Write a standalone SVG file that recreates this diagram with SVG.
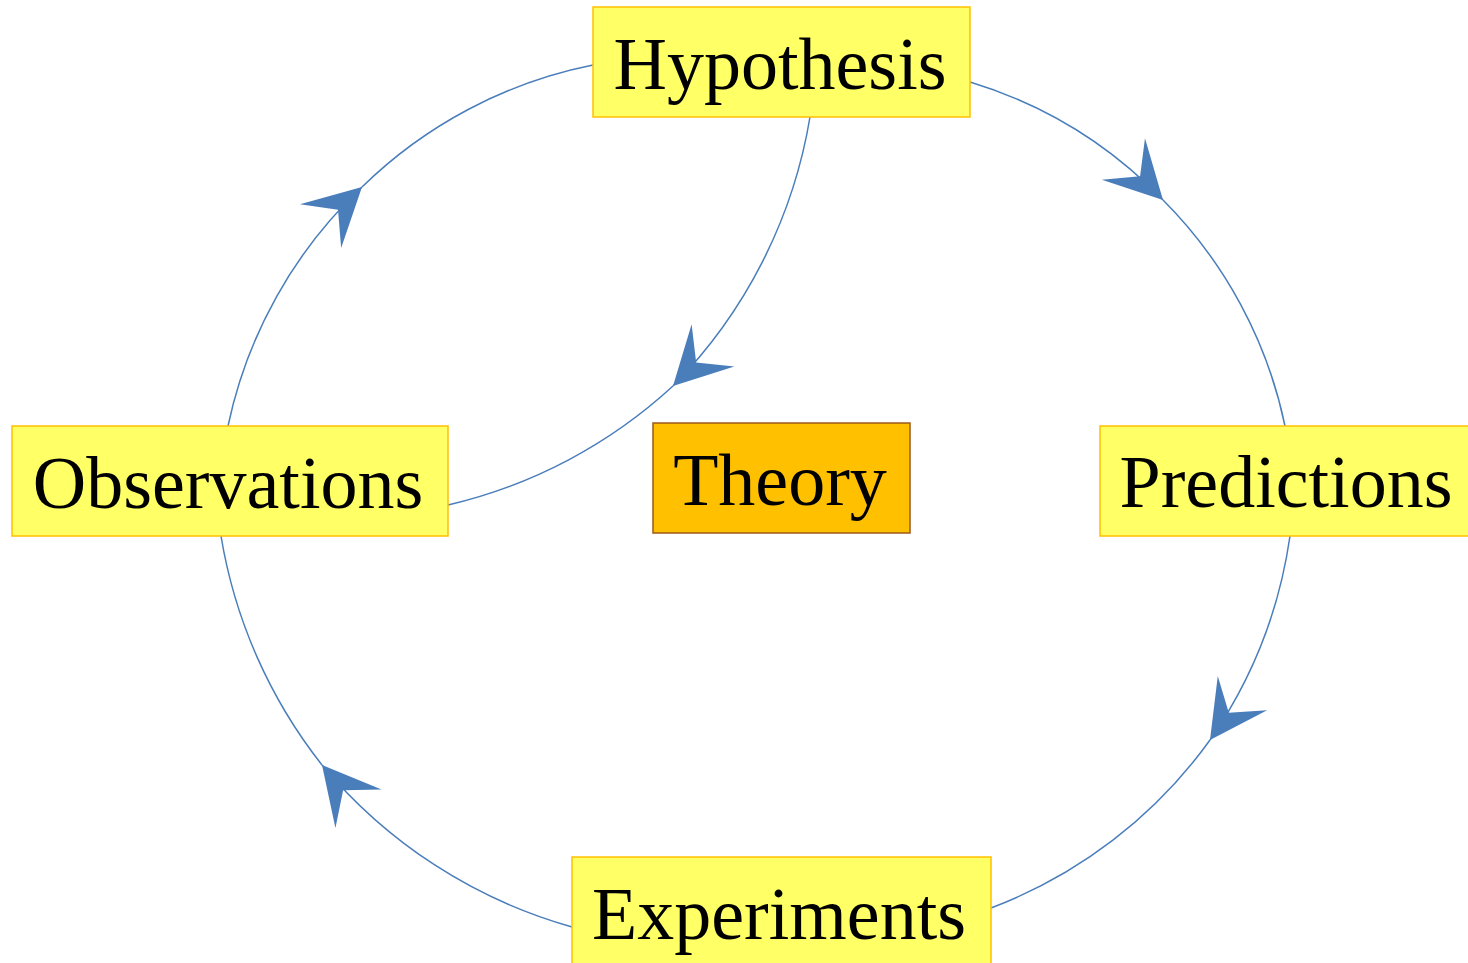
<svg xmlns="http://www.w3.org/2000/svg" width="1468" height="963" viewBox="0 0 1468 963">
<style>
.box{fill:#ffff66;stroke:#ffc000;stroke-width:1.5}
.theory{fill:#ffc000;stroke:#9c5a1a;stroke-width:1.5}
.lbl{font-family:"Liberation Serif","Times New Roman",serif;font-size:74px;fill:#000;text-anchor:middle}
.edge{fill:none;stroke:#4a7ebb;stroke-width:1.5}
</style>
<defs>
<marker id="stealth" markerUnits="userSpaceOnUse" viewBox="-60 -32 62 64" refX="0" refY="0" markerWidth="62" markerHeight="64" orient="auto" overflow="visible">
<path d="M0,0 L-57,-30 L-33,0 L-57,30 Z" fill="#4a7ebb"/>
</marker>
</defs>
<g id="connectors">
<path class="edge" d="M970,82 A450,450 0 0 1 1163,200" marker-end="url(#stealth)"/>
<path class="edge" d="M1163,200 A450,450 0 0 1 1285,426"/>
<path class="edge" d="M1290,536 A477,477 0 0 1 1210,740" marker-end="url(#stealth)"/>
<path class="edge" d="M1210,740 A477,477 0 0 1 991,908"/>
<path class="edge" d="M572,927 A502,502 0 0 1 322,765" marker-end="url(#stealth)"/>
<path class="edge" d="M322,765 A502,502 0 0 1 221,536"/>
<path class="edge" d="M228,426 A459,459 0 0 1 362,187" marker-end="url(#stealth)"/>
<path class="edge" d="M362,187 A459,459 0 0 1 593,65"/>
<path class="edge" d="M810,117 A500,500 0 0 1 673,386" marker-end="url(#stealth)"/>
<path class="edge" d="M673,386 A500,500 0 0 1 448,505"/>
</g>
<g id="hypothesis">
<rect class="box" x="593" y="7" width="377" height="110"/>
<text class="lbl" x="780" y="89">Hypothesis</text>
</g>
<g id="observations">
<rect class="box" x="12" y="426" width="436" height="110"/>
<text class="lbl" x="228" y="508">Observations</text>
</g>
<g id="theory">
<rect class="theory" x="653" y="423" width="257" height="110"/>
<text class="lbl" x="780" y="505">Theory</text>
</g>
<g id="predictions">
<rect class="box" x="1100" y="426" width="380" height="110"/>
<text class="lbl" x="1286" y="507">Predictions</text>
</g>
<g id="experiments">
<rect class="box" x="572" y="857" width="419" height="120"/>
<text class="lbl" x="779" y="939">Experiments</text>
</g>
</svg>
